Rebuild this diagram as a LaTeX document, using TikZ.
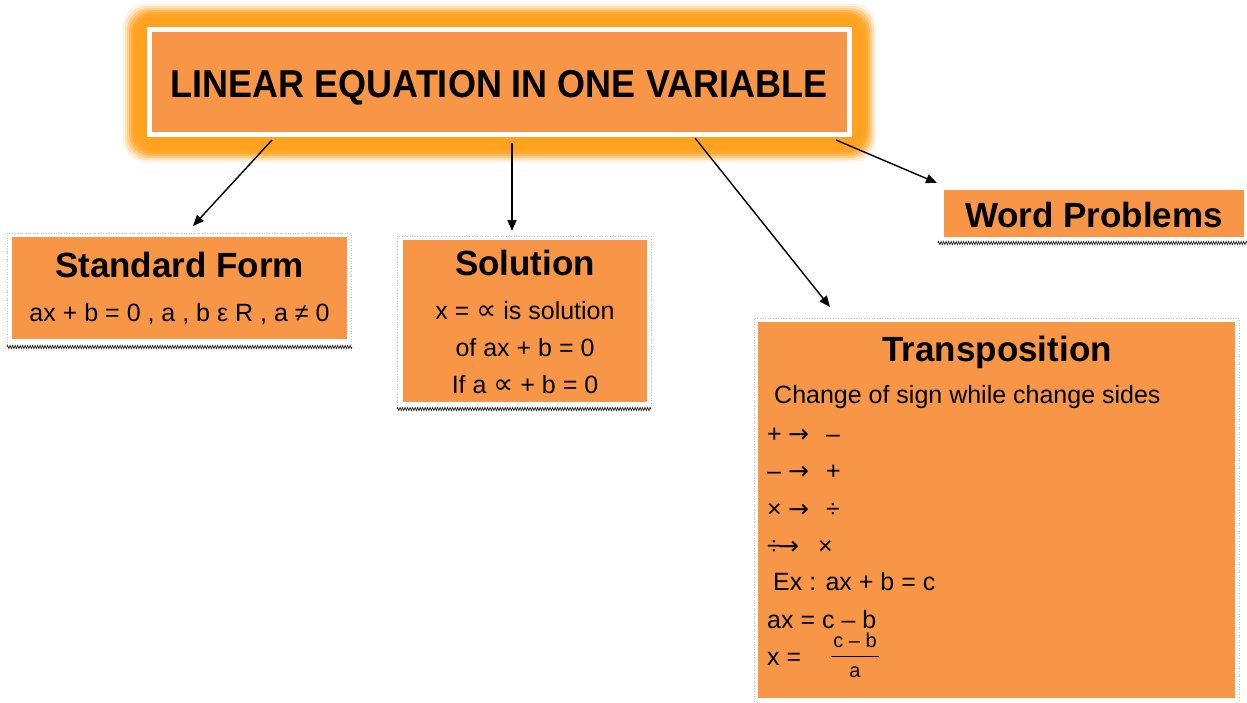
\documentclass[tikz,border=0pt]{standalone}
\usepackage{fontspec}
\setmainfont{Liberation Sans}
\newfontfamily\dejavu{DejaVu Sans}
\usetikzlibrary{arrows.meta,decorations.pathmorphing}
\definecolor{boxorange}{HTML}{F79646}
\definecolor{glowor}{HTML}{FFA21F}
\tikzset{
 box/.style={fill=boxorange, draw=none, anchor=north west, inner sep=0pt, outer sep=0pt},
 ttl/.style={font=\fontsize{35}{42}\selectfont\bfseries, anchor=base, inner sep=0pt},
 body/.style={font=\fontsize{25}{30}\selectfont, inner sep=0pt},
 bodyl/.style={body, anchor=base west},
 bodyc/.style={body, anchor=base},
 framel/.style={draw=gray!45, dotted, line width=0.6pt},
 zig/.style={draw=gray!40!black, line width=0.8pt, decorate, decoration={zigzag, segment length=2.5pt, amplitude=1.5pt}},
 conn/.style={-{Triangle[length=11pt,width=9pt]}, line width=1.4pt, black},
}
\begin{document}
\begin{tikzpicture}[x=1pt,y=-1pt]
\useasboundingbox (0,0) rectangle (1247,702);
\fill[white] (0,0) rectangle (1247,702);
% glow around title
\foreach \i/\op in {0/0.12,2/0.2,4/0.3,6/0.45,8/0.6,10/0.75,13/0.9}{
  \fill[glowor, opacity=\op, rounded corners=22pt] (123+\i,4+\i) rectangle (876-\i,162-\i);
}
\node[box, fill=white, minimum width=705pt, minimum height=110pt] (mainw) at (147,27) {};
\node[box, minimum width=695pt, minimum height=100pt] (main) at (152,32) {};
\node[ttl, font=\fontsize{36}{42}\selectfont\bfseries, yscale=1.08] (maint) at (499,97) {LINEAR EQUATION IN ONE VARIABLE};

% Standard form
\draw[framel] (7,345) -- (7,233) -- (351,233) -- (351,345);
\node[box, minimum width=335pt, minimum height=102pt] (sf) at (12,237) {};
\draw[zig] (7,347) -- (352,347);
\node[ttl] (sft) at (179.5,277) {Standard Form};
\node[bodyc] (sfb) at (179.5,321) {ax + b = 0 , a , b ε R , a ≠ 0};

% Solution
\draw[framel] (397,408) -- (397,236) -- (651,236) -- (651,408);
\node[box, minimum width=244pt, minimum height=162pt] (sol) at (403,240) {};
\draw[zig] (397,409) -- (651,409);
\node[ttl] (solt) at (525,275) {Solution};
\node[bodyc] (sol1) at (525,319) {x = {\dejavu\fontsize{28}{30}\selectfont ∝} is solution};
\node[bodyc] (sol2) at (525,356) {of ax + b = 0};
\node[bodyc] (sol3) at (525,393) {If a {\dejavu\fontsize{28}{30}\selectfont ∝} + b = 0};

% Word problems
\node[box, minimum width=300pt, minimum height=47pt] (wp) at (944,190) {};
\draw[zig] (938,243) -- (1247,243);
\node[ttl] (wpt) at (1094,227) {Word Problems};

% Transposition
\draw[framel] (754,702) -- (754,318) -- (1239,318) -- (1239,702);
\node[box, minimum width=477pt, minimum height=376pt] (tr) at (758,322) {};
\node[ttl] (trt) at (997,361) {Transposition};
\node[bodyl] (tr1) at (774,403) {Change of sign while change sides};
\node[bodyl] (tr2) at (767,442) {\makebox[21pt][l]{+}{\dejavu →}\hspace{17pt}–};
\node[bodyl] (tr3) at (767,479) {\makebox[21pt][l]{–}{\dejavu →}\hspace{17pt}+};
\node[bodyl] (tr4) at (767,517) {\makebox[21pt][l]{×}{\dejavu →}\hspace{17pt}÷};
\node[bodyl] (tr5) at (767,554) {\makebox[11pt][l]{÷}{\dejavu →}\hspace{19pt}×};
\node[bodyl] (tr6) at (773,590) {Ex : ax + b = c};
\node[bodyl] (tr7) at (767,628) {ax = c – b};
\node[bodyl] (tr8) at (767,665) {x =};
\node[font=\fontsize{20}{22}\selectfont, anchor=base, inner sep=0pt] (num) at (855,647) {c – b};
\draw[line width=0.8pt] (831,656) -- (879,656);
\node[font=\fontsize{20}{22}\selectfont, anchor=base, inner sep=0pt] (den) at (855,677) {a};

% connectors
\coordinate (s1) at (272,140); \coordinate (e1) at (193,226);
\coordinate (s2) at (512,143); \coordinate (e2) at (512,231);
\coordinate (s3) at (695,138); \coordinate (e3) at (830,307);
\coordinate (s4) at (836,140); \coordinate (e4) at (937,183);
\draw[conn] (s1) -- (e1);
\draw[conn] (s2) -- (e2);
\draw[conn] (s3) -- (e3);
\draw[conn] (s4) -- (e4);
\end{tikzpicture}
\end{document}
